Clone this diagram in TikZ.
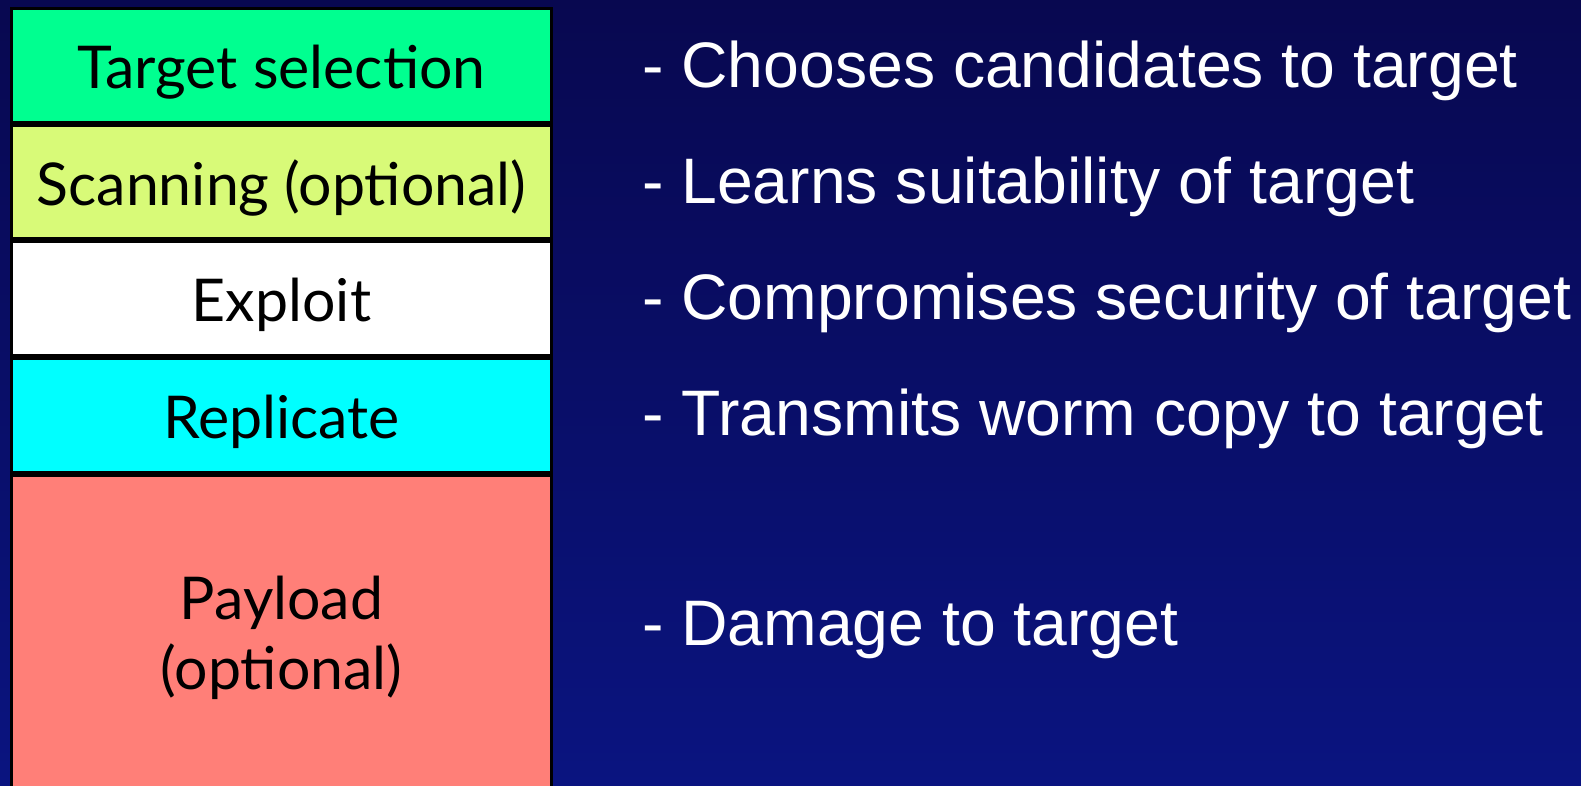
\documentclass[tikz,border=0pt]{standalone}
\usepackage{fontspec}
\setmainfont{Liberation Sans}
\newfontfamily\layerfont{Lato}
\usetikzlibrary{positioning}

\definecolor{bgtop}{RGB}{8,8,80}
\definecolor{bgbottom}{RGB}{10,20,128}
\definecolor{selgreen}{RGB}{0,255,144}
\definecolor{scanyellow}{RGB}{216,250,120}
\definecolor{repcyan}{RGB}{0,255,255}
\definecolor{paysalmon}{RGB}{255,127,120}

\begin{document}
\begin{tikzpicture}[
    x=1pt, y=1pt,
    node distance=0pt,
    layer/.style={draw=black, line width=3pt, minimum width=540pt, minimum height=113.7pt, inner sep=0pt, align=center, text=black, font=\layerfont\fontsize{59}{70}\selectfont},
    oneline/.style={text height=52pt, text depth=6pt},
    role/.style={anchor=base west, inner sep=0pt, text=white, font=\fontsize{64.3}{70}\selectfont}
  ]
  % --- Background ---
  \fill[top color=bgtop, bottom color=bgbottom] (0,0) rectangle (1581,785);
  \useasboundingbox (0,0) rectangle (1581,785);

  % --- Worm layers ---
  \node[layer, oneline, fill=selgreen, anchor=north west] (target) at (10,778) {Target selection};
  \node[layer, oneline, fill=scanyellow, below=of target] (scan) {Scanning (optional)};
  \node[layer, oneline, fill=white, below=of scan] (exploit) {Exploit};
  \node[layer, oneline, fill=repcyan, below=of exploit] (replicate) {Replicate};
  \node[layer, fill=paysalmon, below=of replicate, minimum height=320pt, text depth=5pt] (payload) {Payload\\(optional)};

  % --- Descriptions ---
  \node[role] (dTarget) at (642,697) {- Chooses candidates to target};
  \node[role] (dScan) at (642,581) {- Learns suitability of target};
  \node[role] (dExploit) at (642,465) {- Compromises security of target};
  \node[role] (dReplicate) at (642,349) {- Transmits worm copy to target};
  \node[role] (dPayload) at (642,140) {- Damage to target};

\end{tikzpicture}
\end{document}
